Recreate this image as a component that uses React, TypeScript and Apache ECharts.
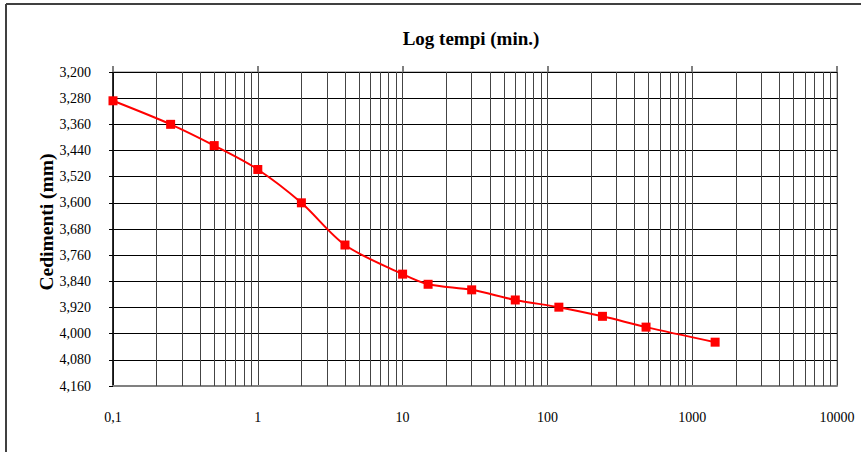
import React, { useEffect, useRef } from "react";
import * as echarts from "echarts";

const timesMin = [0.1, 0.25, 0.5, 1, 2, 4, 10, 15, 30, 60, 120, 240, 480, 1440];
const settlementsMm = [3.288, 3.36, 3.425, 3.498, 3.6, 3.729, 3.818, 3.849, 3.866, 3.897, 3.919, 3.947, 3.98, 4.026];
const decades = [0.1, 1, 10, 100, 1000];
const minorMultipliers = [2, 3, 4, 5, 6, 7, 8, 9];
const titleText = "Log tempi (min.)";
const yName = "Cedimenti (mm)";

const FONT = "Liberation Serif";

export default function App() {
  const ref = useRef<HTMLDivElement>(null);
  useEffect(() => {
    if (!ref.current) return;
    const chart = echarts.init(ref.current, null, { renderer: "svg" });
    const minorLines: number[] = [];
    decades.forEach((d) => minorMultipliers.forEach((m) => minorLines.push(Number((d * m).toPrecision(6)))));
    const seriesData = timesMin.map((t, i) => [t, settlementsMm[i]]);
    chart.setOption({
      animation: false,
      backgroundColor: "#fff",
      textStyle: { fontFamily: FONT },
      grid: {
        left: 113,
        top: 72,
        right: 24,
        bottom: 66,
        show: true,
        borderColor: "#808080",
        borderWidth: 1,
        backgroundColor: "transparent",
      },
      graphic: [
        { type: "line", shape: { x1: 6, y1: 4, x2: 861, y2: 4 }, style: { stroke: "#404040", lineWidth: 2 } },
        { type: "line", shape: { x1: 6, y1: 4, x2: 6, y2: 452 }, style: { stroke: "#404040", lineWidth: 2 } },
        {
          type: "text",
          x: 471,
          y: 38,
          style: {
            text: titleText,
            fontFamily: FONT,
            fontWeight: "bold",
            fontSize: 19,
            fill: "#000",
            textAlign: "center",
            textVerticalAlign: "middle",
          },
        },
        {
          type: "text",
          x: 46,
          y: 222,
          rotation: Math.PI / 2,
          style: {
            text: yName,
            fontFamily: FONT,
            fontWeight: "bold",
            fontSize: 19.5,
            fill: "#000",
            textAlign: "center",
            textVerticalAlign: "middle",
          },
        },
      ],
      xAxis: [
        {
          type: "log",
          logBase: 10,
          min: 0.1,
          max: 10000,
          position: "bottom",
          axisLine: { show: true, lineStyle: { color: "#808080", width: 2 } },
          axisTick: { show: false },
          axisLabel: {
            color: "#000",
            fontSize: 14,
            fontFamily: FONT,
            margin: 24,
            formatter: (v: number) => String(Number(v.toPrecision(6))).replace(".", ","),
          },
          splitLine: { show: true, lineStyle: { color: "#444", width: 1 } },
        },
        {
          type: "log",
          logBase: 10,
          min: 0.1,
          max: 10000,
          position: "top",
          axisLine: { show: false },
          axisTick: { show: true, length: 6, lineStyle: { color: "#808080", width: 2 } },
          axisLabel: { show: false },
          splitLine: { show: false },
        },
      ],
      yAxis: {
        type: "value",
        inverse: true,
        min: 3.2,
        max: 4.16,
        interval: 0.08,
        axisLine: { show: true, lineStyle: { color: "#000", width: 1.5 } },
        axisTick: { show: true, length: 4, lineStyle: { color: "#000" } },
        axisLabel: {
          color: "#000",
          fontSize: 14,
          fontFamily: FONT,
          margin: 22,
          formatter: (v: number) => v.toFixed(3).replace(".", ","),
        },
        splitLine: { show: true, lineStyle: { color: "#000", width: 1 } },
      },
      series: [
        {
          type: "line",
          xAxisIndex: 0,
          data: seriesData,
          smooth: 0.3,
          symbol: "rect",
          symbolSize: 9,
          lineStyle: { color: "#FF0000", width: 2 },
          itemStyle: { color: "#FF0000" },
          emphasis: { disabled: true },
          z: 5,
          markLine: {
            silent: true,
            symbol: ["none", "none"],
            label: { show: false },
            lineStyle: { color: "#444", width: 1, type: "solid" },
            emphasis: { disabled: true },
            z: 1,
            data: minorLines.map((v) => ({ xAxis: v })),
          },
        },
      ],
    });
    return () => chart.dispose();
  }, []);
  return (
    <div
      ref={ref}
      style={{ position: "absolute", left: 0, top: 0, width: 861, height: 452 }}
    />
  );
}
